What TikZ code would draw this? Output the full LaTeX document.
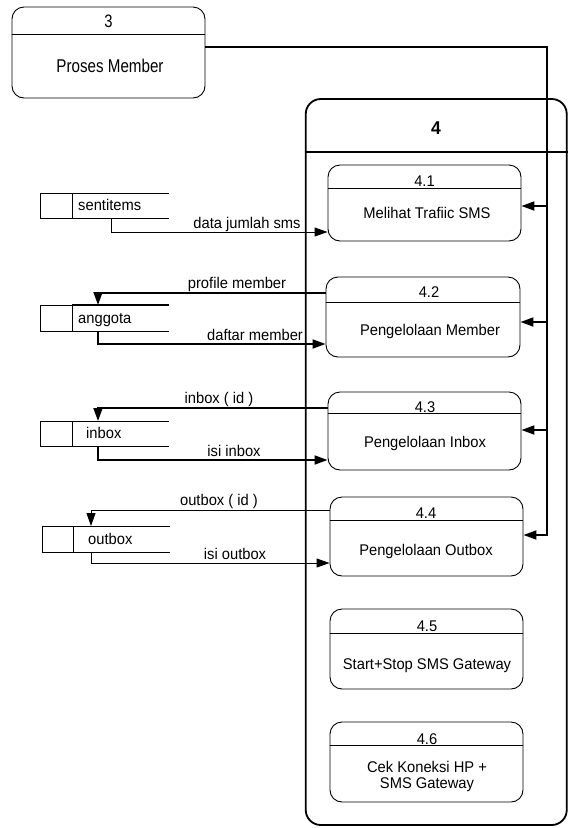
\documentclass[tikz,border=0pt]{standalone}
\usepackage{fontspec}
\setmainfont[FakeStretch=0.95]{Liberation Sans}
\newfontfamily\narrowf[FakeStretch=0.82]{Liberation Sans}
\usetikzlibrary{arrows.meta}
\begin{document}
\begin{tikzpicture}[x=1pt,y=-1pt,
  every node/.style={font=\fontsize{15.5}{18}\selectfont, inner sep=0pt},
  proc/.style={draw, line width=0.9pt, rounded corners=12pt},
  bigproc/.style={draw, line width=1.8pt, rounded corners=15pt},
  lbl/.style={anchor=base, fill=white, inner xsep=1pt, inner ysep=1pt},
  numw/.style={anchor=base, fill=white, inner xsep=4pt, inner ysep=1pt},
  thin/.style={line width=0.9pt},
  thick2/.style={line width=1.8pt},
  tip/.style={-{Triangle[length=13pt,width=9pt]}},
]
\useasboundingbox (0,0) rectangle (569,828);
\fill[white] (0,0) rectangle (569,828);

% process 3
\node[proc, minimum width=193pt, minimum height=91pt] (p3) at (108.5,52.5) {};
\draw[thin] (p3.west |- 0,34) -- (p3.east |- 0,34);
\node[anchor=base, font=\narrowf\fontsize{18}{20}\selectfont] (p3n) at (108.5,27) {3};
\node[anchor=base, font=\narrowf\fontsize{18.5}{20}\selectfont] (p3t) at (110,72) {Proses Member};

% big process 4
\node[bigproc, minimum width=261pt, minimum height=726pt] (p4) at (436.25,462) {};
\draw[thick2] (p4.west |- 0,152) -- (p4.east |- 0,152);
\node[anchor=base, font=\fontsize{18.5}{20}\selectfont\bfseries] (p4n) at (436,134) {4};

% subprocesses
\node[proc, minimum width=193pt, minimum height=76pt] (p41) at (424.5,203) {};
\draw[thin] (p41.west |- 0,188) -- (p41.east |- 0,188);
\node[anchor=base] (p41n) at (424.5,186) {4.1};
\node[anchor=base] (p41t) at (427,218) {Melihat Trafiic SMS};

\node[proc, minimum width=194pt, minimum height=80pt] (p42) at (423,317) {};
\draw[thin] (p42.west |- 0,302) -- (p42.east |- 0,302);
\node[anchor=base] (p42n) at (429,297) {4.2};
\node[anchor=base] (p42t) at (430,335) {Pengelolaan Member};

\node[proc, minimum width=193pt, minimum height=78pt] (p43) at (424.5,431) {};
\draw[thin] (p43.west |- 0,413) -- (p43.east |- 0,413);
\node[numw] (p43n) at (425,412) {4.3};
\node[anchor=base] (p43t) at (425,447) {Pengelolaan Inbox};

\node[proc, minimum width=193pt, minimum height=79pt] (p44) at (426.5,536.5) {};
\draw[thin] (p44.west |- 0,520) -- (p44.east |- 0,520);
\node[numw] (p44n) at (426,518) {4.4};
\node[anchor=base] (p44t) at (426,555) {Pengelolaan Outbox};

\node[proc, minimum width=193pt, minimum height=80pt] (p45) at (426.5,649) {};
\draw[thin] (p45.west |- 0,633) -- (p45.east |- 0,633);
\node[numw] (p45n) at (427,631) {4.5};
\node[anchor=base] (p45t) at (427,669) {Start+Stop SMS Gateway};

\node[proc, minimum width=193pt, minimum height=80pt] (p46) at (426.5,762) {};
\draw[thin] (p46.west |- 0,745) -- (p46.east |- 0,745);
\node[numw] (p46n) at (427,744) {4.6};
\node[anchor=base] (p46t) at (427,772) {Cek Koneksi HP +};
\node[anchor=base] (p46u) at (427,788) {SMS Gateway};

% data stores
\node[minimum width=129pt, minimum height=25pt] (s1) at (104.5,205.5) {};
\draw[thin] (s1.east |- 0,193) -- (40,193) -- (40,218) -- (s1.east |- 0,218);
\draw[thin] (72,193) -- (72,218);
\node[anchor=base west] (s1t) at (78,210) {sentitems};

\node[minimum width=129pt, minimum height=26pt] (s2) at (104.5,318) {};
\draw[thick2] (72,305) -- (s2.east |- 0,305);
\draw[thin] (72,305) -- (40,305) -- (40,331) -- (s2.east |- 0,331);
\draw[thin] (72,305) -- (72,331);
\node[anchor=base west] (s2t) at (78,323) {anggota};

\node[minimum width=129pt, minimum height=25pt] (s3) at (104.5,433.5) {};
\draw[thin] (s3.east |- 0,421) -- (40,421) -- (40,446) -- (s3.east |- 0,446);
\draw[thin] (72,421) -- (72,446);
\node[anchor=base west] (s3t) at (86,438) {inbox};

\node[minimum width=128pt, minimum height=26pt] (s4) at (106,539) {};
\draw[thin] (s4.east |- 0,526) -- (42,526) -- (42,552) -- (s4.east |- 0,552);
\draw[thin] (73,526) -- (73,552);
\node[anchor=base west] (s4t) at (88,544) {outbox};

% flows left
\draw[thin, tip] (111,218) -- (111,232) -- (p41.west |- 0,232);
\node[lbl] (l1) at (247,228) {data jumlah sms};

\draw[thick2, tip] (p42.west |- 0,293) -- (98,293) -- (98,305);
\node[lbl] (l2) at (237,288) {profile member};
\draw[thick2, tip] (98,331) -- (98,344) -- (p42.west |- 0,344);
\node[lbl] (l3) at (255,340) {daftar member};

\draw[thick2, tip] (p43.west |- 0,408) -- (98,408) -- (98,421);
\node[lbl] (l4) at (219,403) {inbox ( id )};
\draw[thick2, tip] (98,446) -- (98,460) -- (p43.west |- 0,460);
\node[lbl] (l5) at (234,456) {isi inbox};

\draw[thin, tip] (p44.west |- 0,510) -- (91,510) -- (91,526);
\node[lbl] (l6) at (219,505) {outbox ( id )};
\draw[thin, tip] (91,552) -- (91,563) -- (p44.west |- 0,563);
\node[lbl] (l7) at (235,559) {isi outbox};

% flows from process 3
\coordinate (c1) at (547,47);
\draw[thick2, tip] (p3.east |- 0,47) -- (c1) -- (547,535) -- (p44.east |- 0,535);
\draw[thick2, tip] (547,206) -- (p41.east |- 0,206);
\draw[thick2, tip] (547,322) -- (p42.east |- 0,322);
\draw[thick2, tip] (547,430) -- (p43.east |- 0,430);
\end{tikzpicture}
\end{document}
